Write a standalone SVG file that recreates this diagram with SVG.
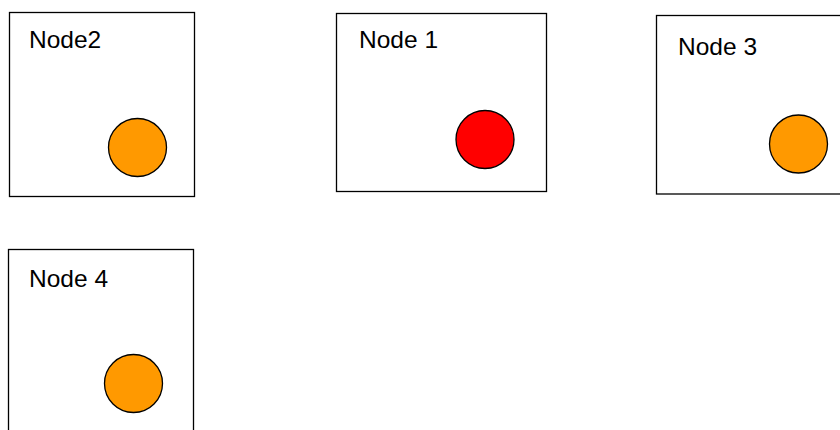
<svg xmlns="http://www.w3.org/2000/svg" width="840" height="430" viewBox="0 0 840 430">
<style>
.box{fill:#fff;stroke:#000;stroke-width:1.3}
.lbl{font-family:"Liberation Sans",Arial,sans-serif;font-size:24.5px;fill:#000}
.dot{stroke:#000;stroke-width:1.3}
.orange{fill:#ff9900}
.red{fill:#ff0000}
</style>
<rect width="840" height="430" fill="#fff"/>
<g id="connectors"/>
<g id="node2">
<rect class="box" x="9.5" y="12.5" width="185" height="184"/>
<text class="lbl" x="29" y="48">Node2</text>
<circle class="dot orange" cx="137.5" cy="147.5" r="29"/>
</g>
<g id="node1">
<rect class="box" x="336.5" y="13.5" width="210" height="178"/>
<text class="lbl" x="359" y="48">Node 1</text>
<circle class="dot red" cx="485" cy="139.5" r="29"/>
</g>
<g id="node3">
<rect class="box" x="656.5" y="15.5" width="200" height="178.5"/>
<text class="lbl" x="678" y="55">Node 3</text>
<circle class="dot orange" cx="798.5" cy="144" r="29"/>
</g>
<g id="node4">
<rect class="box" x="8.5" y="249.5" width="185" height="200"/>
<text class="lbl" x="29" y="286.5">Node 4</text>
<circle class="dot orange" cx="133.5" cy="383.5" r="29"/>
</g>
</svg>
